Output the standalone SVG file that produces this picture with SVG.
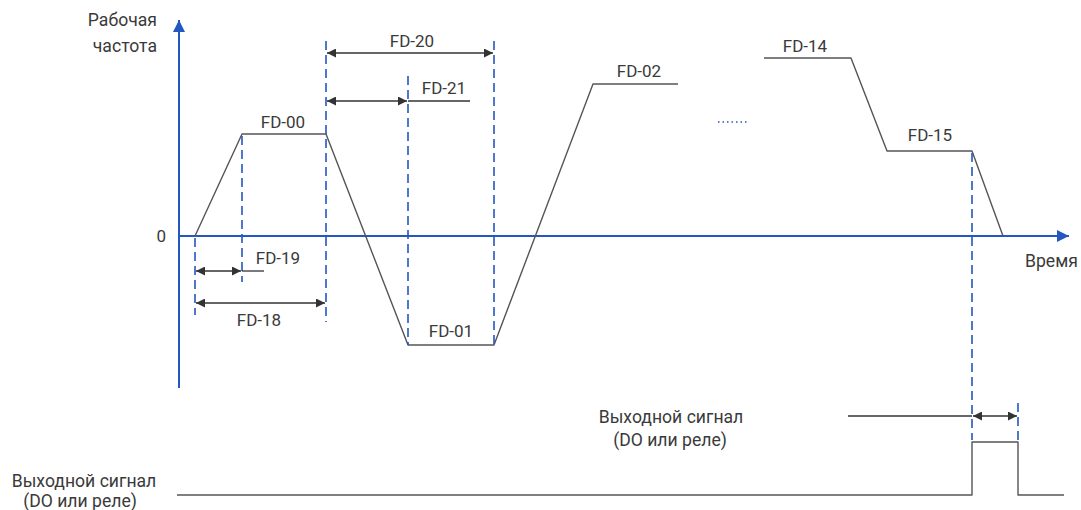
<svg xmlns="http://www.w3.org/2000/svg" width="1081" height="510" viewBox="0 0 1081 510">
<style>
  .t { font-family: Roboto, "Liberation Sans", sans-serif; font-size: 17px; fill: #3a3a3a; }
  .r { font-size: 17.6px; }
  .axis { stroke: #2457c0; stroke-width: 2; fill: none; }
  .dash { stroke: #2457c0; stroke-width: 1.6; stroke-dasharray: 9 5; fill: none; }
  .curve { stroke: #555; stroke-width: 1.4; fill: none; stroke-linejoin: round; }
  .dim { stroke: #333; stroke-width: 1.3; fill: none; }
</style>
<defs>
  <marker id="ah" viewBox="0 0 10 10" refX="10" refY="5" markerWidth="10" markerHeight="9" markerUnits="userSpaceOnUse" orient="auto-start-reverse">
    <path d="M0,0 L10,5 L0,10 Z" fill="#333"/>
  </marker>
  <marker id="axh" viewBox="0 0 10 10" refX="10" refY="5" markerWidth="14" markerHeight="12" markerUnits="userSpaceOnUse" orient="auto">
    <path d="M0,0 L10,5 L0,10 Z" fill="#2457c0"/>
  </marker>
</defs>

<g id="axes">
  <line class="axis" x1="179" y1="388" x2="179" y2="20" marker-end="url(#axh)"/>
  <line class="axis" x1="179" y1="236" x2="1069" y2="236" marker-end="url(#axh)"/>
  <text class="t r" x="157" y="26" text-anchor="end">Рабочая</text>
  <text class="t r" x="157" y="52" text-anchor="end">частота</text>
  <text class="t" x="166" y="242" text-anchor="end">0</text>
  <text class="t r" x="1025" y="267">Время</text>
</g>

<g id="frequency-curve">
  <polyline class="curve" points="195,236 242,134 326,134 408,345 494,345 593,84 678,84"/>
  <polyline class="curve" points="764,58 851,58 887,151 972,151 1003,236"/>
  <line x1="718" y1="122" x2="747" y2="122" stroke="#2457c0" stroke-width="1.5" stroke-dasharray="1.5 3"/>
  <text class="t" x="283" y="128" text-anchor="middle">FD-00</text>
  <text class="t" x="451" y="337" text-anchor="middle">FD-01</text>
  <text class="t" x="639" y="77" text-anchor="middle">FD-02</text>
  <text class="t" x="805" y="52" text-anchor="middle">FD-14</text>
  <text class="t" x="930" y="141" text-anchor="middle">FD-15</text>
</g>

<g id="guides">
  <line class="dash" x1="195" y1="238" x2="195" y2="315"/>
  <line class="dash" x1="242" y1="136" x2="242" y2="282"/>
  <line class="dash" x1="326" y1="41" x2="326" y2="322"/>
  <line class="dash" x1="408" y1="76" x2="408" y2="345"/>
  <line class="dash" x1="494" y1="41" x2="494" y2="345"/>
  <line class="dash" x1="972" y1="153" x2="972" y2="440"/>
  <line class="dash" x1="1018" y1="403" x2="1018" y2="442"/>
</g>

<g id="connectors">
  <line class="dim" x1="327" y1="53" x2="493" y2="53" marker-start="url(#ah)" marker-end="url(#ah)"/>
  <line class="dim" x1="327" y1="101" x2="407" y2="101" marker-start="url(#ah)" marker-end="url(#ah)"/>
  <line class="dim" x1="408" y1="101" x2="470" y2="101"/>
  <line class="dim" x1="196" y1="271" x2="241" y2="271" marker-start="url(#ah)" marker-end="url(#ah)"/>
  <line class="dim" x1="242" y1="271" x2="264" y2="271"/>
  <line class="dim" x1="196" y1="303" x2="325" y2="303" marker-start="url(#ah)" marker-end="url(#ah)"/>
  <line class="dim" x1="848" y1="416" x2="972" y2="416"/>
  <line class="dim" x1="973" y1="416" x2="1017" y2="416" marker-start="url(#ah)" marker-end="url(#ah)"/>
</g>

<g id="dim-labels">
  <text class="t" x="412" y="47" text-anchor="middle">FD-20</text>
  <text class="t" x="444" y="94" text-anchor="middle">FD-21</text>
  <text class="t" x="278" y="264" text-anchor="middle">FD-19</text>
  <text class="t" x="259" y="326" text-anchor="middle">FD-18</text>
</g>

<g id="output-signal">
  <polyline class="curve" points="177,495 972,495 972,442 1018,442 1018,495 1064,495"/>
  <text class="t r" x="671" y="423" text-anchor="middle">Выходной сигнал</text>
  <text class="t r" x="670" y="446" text-anchor="middle">(DO или реле)</text>
  <text class="t r" x="84" y="487" text-anchor="middle">Выходной сигнал</text>
  <text class="t r" x="80" y="507" text-anchor="middle">(DO или реле)</text>
</g>
</svg>
